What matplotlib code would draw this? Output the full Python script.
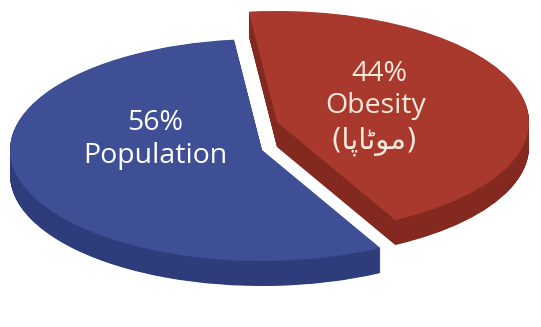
import matplotlib
matplotlib.use("Agg")
import matplotlib.pyplot as plt

# ---- data ----
categories = ["Obesity", "Population"]
values = [44, 56]
pct_labels = ["44%", "56%"]
urdu_label = "(\uFE8E\uFB58\uFE8E\uFB68\uFEEE\uFEE3)"  # (موٹاپا) in visual order, shaped forms

# ---- style ----
top_colors = ["#A8392C", "#3E4F96"]
side_colors = ["#84291F", "#2E3C7C"]
W, H = 541, 327
RX, RY = 252.0, 111.0         # ellipse radii in px
CX, CY = 262.0, 150.0         # pie centre (px, from top-left)
RED_SHIFT = (15.0, -28.0)     # exploded slice offset in px
DEPTH = 25.0
START = -62.0

def px(x, y):
    return ((x - CX) / RX, (CY - y) / RY)

fig = plt.figure(figsize=(W / 100, H / 100), dpi=100)
ax = fig.add_axes([0, 0, 1, 1])

shift = (RED_SHIFT[0] / RX, -RED_SHIFT[1] / RY)

def draw_layer(dy_px, colors):
    wedges, _ = ax.pie(values, colors=colors, startangle=START, counterclock=True,
                       radius=1.0, center=(0, -dy_px / RY),
                       wedgeprops=dict(linewidth=0, antialiased=True))
    c = wedges[0].center
    wedges[0].set_center((c[0] + shift[0], c[1] + shift[1]))
    return wedges

n = 50
for i in range(n, 0, -1):
    draw_layer(DEPTH * i / n, side_colors)
draw_layer(0, top_colors)

ax.set_aspect("auto")
ax.set_xlim(-CX / RX, (W - CX) / RX)
ax.set_ylim((CY - H) / RY, CY / RY)
ax.axis("off")

font = ["Open Sans", "DejaVu Sans"]
fs = 20.5
ax.text(*px(155, 123), pct_labels[1], color="white", fontsize=fs, family=font,
        ha="center", va="center")
ax.text(*px(155, 156), categories[1], color="white", fontsize=fs, family=font,
        ha="center", va="center")
cream = "#F6E9DC"
ax.text(*px(379, 74), pct_labels[0], color=cream, fontsize=fs, family=font,
        ha="center", va="center")
ax.text(*px(376, 106), categories[0], color=cream, fontsize=fs, family=font,
        ha="center", va="center")
ax.text(*px(374, 141), urdu_label, color=cream, fontsize=21,
        family=["DejaVu Sans"], ha="center", va="center")

fig.savefig("out.png", dpi=100, facecolor="white")
